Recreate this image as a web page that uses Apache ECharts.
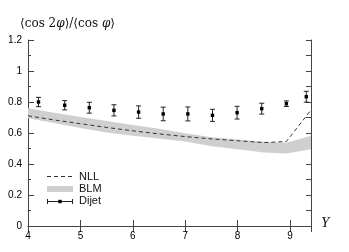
<!DOCTYPE html>
<html><head><meta charset="utf-8">
<script src="https://cdn.jsdelivr.net/npm/echarts@6/dist/echarts.min.js"></script>
<style>html,body{margin:0;padding:0;background:#fff}#c{width:349px;height:252px}</style>
</head><body><div id="c"></div>
<script>
// Dijet data
const dijetX = [4.2, 4.7, 5.17, 5.64, 6.11, 6.58, 7.05, 7.52, 7.99, 8.46, 8.93, 9.31];
const dijetY = [0.800, 0.779, 0.763, 0.746, 0.735, 0.723, 0.723, 0.714, 0.731, 0.757, 0.789, 0.834];
const dijetErr = [0.030, 0.030, 0.035, 0.036, 0.040, 0.044, 0.045, 0.039, 0.041, 0.035, 0.018, 0.035];
// Theory curves
const theoryX = [4.0, 4.5, 5.0, 5.5, 6.0, 6.5, 7.0, 7.5, 8.0, 8.5, 8.93, 9.4];
const nllY = [0.711, 0.684, 0.660, 0.636, 0.614, 0.594, 0.577, 0.562, 0.550, 0.538, 0.545, 0.748];
const blmUpper = [0.760, 0.731, 0.703, 0.677, 0.652, 0.627, 0.598, 0.572, 0.558, 0.544, 0.537, 0.582];
const blmLower = [0.695, 0.664, 0.632, 0.603, 0.582, 0.565, 0.545, 0.515, 0.495, 0.475, 0.468, 0.495];
const xTicks = [4, 5, 6, 7, 8, 9];
const yTickLabels = ['0', '0.2', '0.4', '0.6', '0.8', '1', '1.2'];

const chart = echarts.init(document.getElementById('c'), null, {renderer: 'canvas'});
const axisColor = '#444';
const labelFont = {fontFamily: 'Liberation Sans, Arial, sans-serif', fontSize: 10, color: '#000'};

const option = {
  animation: false,
  grid: {left: 28, right: 38, top: 40, bottom: 26},
  xAxis: [{
    type: 'value', min: 4, max: 9.4, interval: 1, position: 'bottom',
    axisLine: {show: true, lineStyle: {color: axisColor, width: 1}},
    axisTick: {show: true, inside: true, length: 6, lineStyle: {color: axisColor}},
    splitLine: {show: false},
    axisLabel: Object.assign({margin: 5, formatter: v => xTicks.includes(v) ? String(v) : ''}, labelFont)
  }, {
    type: 'value', min: 4, max: 9.4, interval: 1, position: 'top',
    axisLine: {show: true, lineStyle: {color: axisColor, width: 1}},
    axisTick: {show: true, inside: true, length: 6, lineStyle: {color: axisColor}},
    splitLine: {show: false}, axisLabel: {show: false}
  }],
  yAxis: [{
    type: 'value', min: 0, max: 1.2, interval: 0.2, position: 'left',
    axisLine: {show: true, lineStyle: {color: axisColor, width: 1}},
    axisTick: {show: true, inside: true, length: 6, lineStyle: {color: axisColor}},
    minorTick: {show: true, splitNumber: 2, length: 3, lineStyle: {color: axisColor}},
    splitLine: {show: false},
    axisLabel: Object.assign({margin: 6, formatter: v => yTickLabels[Math.round(v / 0.2)]}, labelFont)
  }, {
    type: 'value', min: 0, max: 1.2, interval: 0.1, position: 'right',
    axisLine: {show: true, lineStyle: {color: axisColor, width: 1}},
    axisTick: {show: true, inside: true, length: 5, lineStyle: {color: axisColor}},
    splitLine: {show: false}, axisLabel: {show: false}
  }],
  series: [
    {
      name: 'BLM', type: 'custom', clip: true, z: 1,
      data: [[theoryX[0], blmUpper[0]]],
      renderItem: function (params, api) {
        const pts = [];
        for (let i = 0; i < theoryX.length; i++) pts.push(api.coord([theoryX[i], blmUpper[i]]));
        for (let i = theoryX.length - 1; i >= 0; i--) pts.push(api.coord([theoryX[i], blmLower[i]]));
        return {type: 'polygon', shape: {points: pts}, style: {fill: '#cfcfcf', stroke: null}};
      }
    },
    {
      name: 'NLL', type: 'line', z: 3, showSymbol: false, symbol: 'none',
      data: theoryX.map((x, i) => [x, nllY[i]]),
      lineStyle: {color: '#333', width: 1, type: [4, 3]}
    },
    {
      name: 'Dijet', type: 'custom', z: 4,
      data: dijetX.map((x, i) => [x, dijetY[i], dijetErr[i]]),
      renderItem: function (params, api) {
        const x = api.value(0), y = api.value(1), e = api.value(2);
        const c = api.coord([x, y]);
        const lo = api.coord([x, y - e]);
        const hi = api.coord([x, y + e]);
        const cap = 2.5;
        const st = {stroke: '#222', lineWidth: 1};
        return {type: 'group', children: [
          {type: 'line', shape: {x1: c[0], y1: lo[1], x2: c[0], y2: hi[1]}, style: st},
          {type: 'line', shape: {x1: c[0] - cap, y1: lo[1], x2: c[0] + cap, y2: lo[1]}, style: st},
          {type: 'line', shape: {x1: c[0] - cap, y1: hi[1], x2: c[0] + cap, y2: hi[1]}, style: st},
          {type: 'rect', shape: {x: c[0] - 1.7, y: c[1] - 1.7, width: 3.4, height: 3.4}, style: {fill: '#000'}}
        ]};
      }
    }
  ],
  graphic: [
    {
      type: 'text', left: 20, top: 18,
      style: {
        text: '{n|⟨cos 2}{i|φ}{n|⟩/⟨cos }{i|φ}{n|⟩}',
        rich: {
          n: {fontFamily: 'DejaVu Serif, Liberation Serif, serif', fontSize: 12, fill: '#111'},
          i: {fontFamily: 'DejaVu Serif, Liberation Serif, serif', fontSize: 12, fontStyle: 'italic', fill: '#111'}
        }
      }
    },
    {
      type: 'text', left: 321, top: 216,
      style: {text: 'Y', fontFamily: 'Liberation Serif, DejaVu Serif, serif', fontStyle: 'italic', fontSize: 15, fill: '#111'}
    },
    // legend
    {type: 'line', shape: {x1: 47, y1: 176.5, x2: 73, y2: 176.5}, style: {stroke: '#333', lineWidth: 1, lineDash: [4, 3]}},
    {type: 'text', left: 79, top: 171, style: {text: 'NLL', fontFamily: 'Liberation Sans, Arial, sans-serif', fontSize: 11, fill: '#111'}},
    {type: 'rect', shape: {x: 47, y: 186, width: 26, height: 6}, style: {fill: '#cfcfcf'}},
    {type: 'text', left: 79, top: 183.5, style: {text: 'BLM', fontFamily: 'Liberation Sans, Arial, sans-serif', fontSize: 11, fill: '#111'}},
    {type: 'line', shape: {x1: 47, y1: 201.5, x2: 73, y2: 201.5}, style: {stroke: '#222', lineWidth: 1}},
    {type: 'line', shape: {x1: 47.5, y1: 199, x2: 47.5, y2: 204}, style: {stroke: '#222', lineWidth: 1}},
    {type: 'line', shape: {x1: 72.5, y1: 199, x2: 72.5, y2: 204}, style: {stroke: '#222', lineWidth: 1}},
    {type: 'rect', shape: {x: 58.3, y: 199.8, width: 3.4, height: 3.4}, style: {fill: '#000'}},
    {type: 'text', left: 79, top: 195.5, style: {text: 'Dijet', fontFamily: 'Liberation Sans, Arial, sans-serif', fontSize: 11, fill: '#111'}}
  ]
};
chart.setOption(option);
</script>
</body></html>
